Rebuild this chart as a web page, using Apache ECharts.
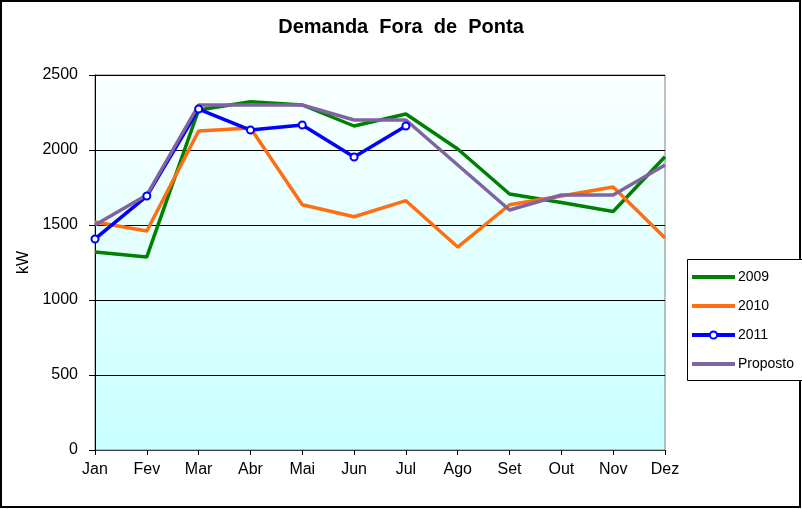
<!DOCTYPE html>
<html><head><meta charset="utf-8">
<script src="https://cdn.jsdelivr.net/npm/echarts@6/dist/echarts.min.js"></script>
<style>html,body{margin:0;padding:0;background:#fff}#c{width:802px;height:509px}</style>
</head><body><div id="c"></div>
<script>
var months = ['Jan','Fev','Mar','Abr','Mai','Jun','Jul','Ago','Set','Out','Nov','Dez'];
var s2009 = [1320,1287,2267,2322,2300,2160,2240,2007,1707,1650,1590,1955];
var s2010 = [1520,1460,2127,2147,1635,1555,1662,1353,1635,1693,1753,1413];
var s2011 = [1407,1693,2273,2133,2167,1953,2160,null,null,null,null,null];
var sProp = [1500,1700,2300,2300,2300,2200,2200,1900,1600,1700,1700,1900];
var font = 'Arial, "Liberation Sans", sans-serif';
var chart = echarts.init(document.getElementById('c'));
function ln(name, data, color, extra){
  var o = {name:name,type:'line',data:data,symbol:'none',showSymbol:false,
    lineStyle:{color:color,width:3.5},itemStyle:{color:color},animation:false,connectNulls:false};
  for (var k in extra) o[k]=extra[k];
  return o;
}
chart.setOption({
  animation:false,
  title:{text:'Demanda  Fora  de  Ponta',left:'center',top:12,
    textStyle:{fontFamily:font,fontSize:20,fontWeight:'bold',color:'#000'}},
  graphic:[{type:'rect',shape:{x:1,y:1,width:799,height:506},style:{fill:'none',stroke:'#000',lineWidth:2},silent:true},
           {type:'rect',shape:{x:687.5,y:259.5,width:120,height:121},style:{fill:'#fff',stroke:'#000',lineWidth:1},silent:true,z:0}],
  grid:{left:95,right:137,top:75,bottom:59,show:true,borderColor:'#808080',borderWidth:1,
    backgroundColor:new echarts.graphic.LinearGradient(0,0,0,1,[{offset:0,color:'#fbffff'},{offset:1,color:'#c8ffff'}])},
  legend:{orient:'vertical',left:690,top:270,padding:0,itemGap:15,itemWidth:43,itemHeight:9,
    lineStyle:{width:4},
    textStyle:{fontFamily:font,fontSize:14,color:'#000',padding:[0,0,0,-2]},
    data:[{name:'2009',itemStyle:{opacity:0}},{name:'2010',itemStyle:{opacity:0}},
          {name:'2011'},
          {name:'Proposto',itemStyle:{opacity:0}}]},
  xAxis:{type:'category',data:months,boundaryGap:false,
    axisLine:{lineStyle:{color:'#404040',width:1}},
    axisTick:{show:true,length:5,lineStyle:{color:'#000'}},
    axisLabel:{fontFamily:font,fontSize:16,color:'#000',margin:12},
    splitLine:{show:false}},
  yAxis:{type:'value',min:0,max:2500,interval:500,name:'kW',nameLocation:'middle',nameGap:62,
    nameTextStyle:{fontFamily:font,fontSize:16,color:'#000'},
    axisLine:{show:true,lineStyle:{color:'#000'}},
    axisTick:{show:true,length:6,lineStyle:{color:'#000'}},
    axisLabel:{fontFamily:font,fontSize:16,color:'#000',margin:17,formatter:function(v){return String(v);}},
    splitLine:{lineStyle:{color:'#000',width:1}}},
  series:[
    ln('2009',s2009,'#008000',{}),
    ln('2010',s2010,'#ff6f11',{}),
    ln('2011',s2011,'#0000ff',{symbol:'circle',showSymbol:true,symbolSize:7,
      itemStyle:{color:'#fff',borderColor:'#0000ff',borderWidth:2},lineStyle:{color:'#0000ff',width:3.5}}),
    ln('Proposto',sProp,'#8064a2',{})
  ]
});
</script></body></html>
